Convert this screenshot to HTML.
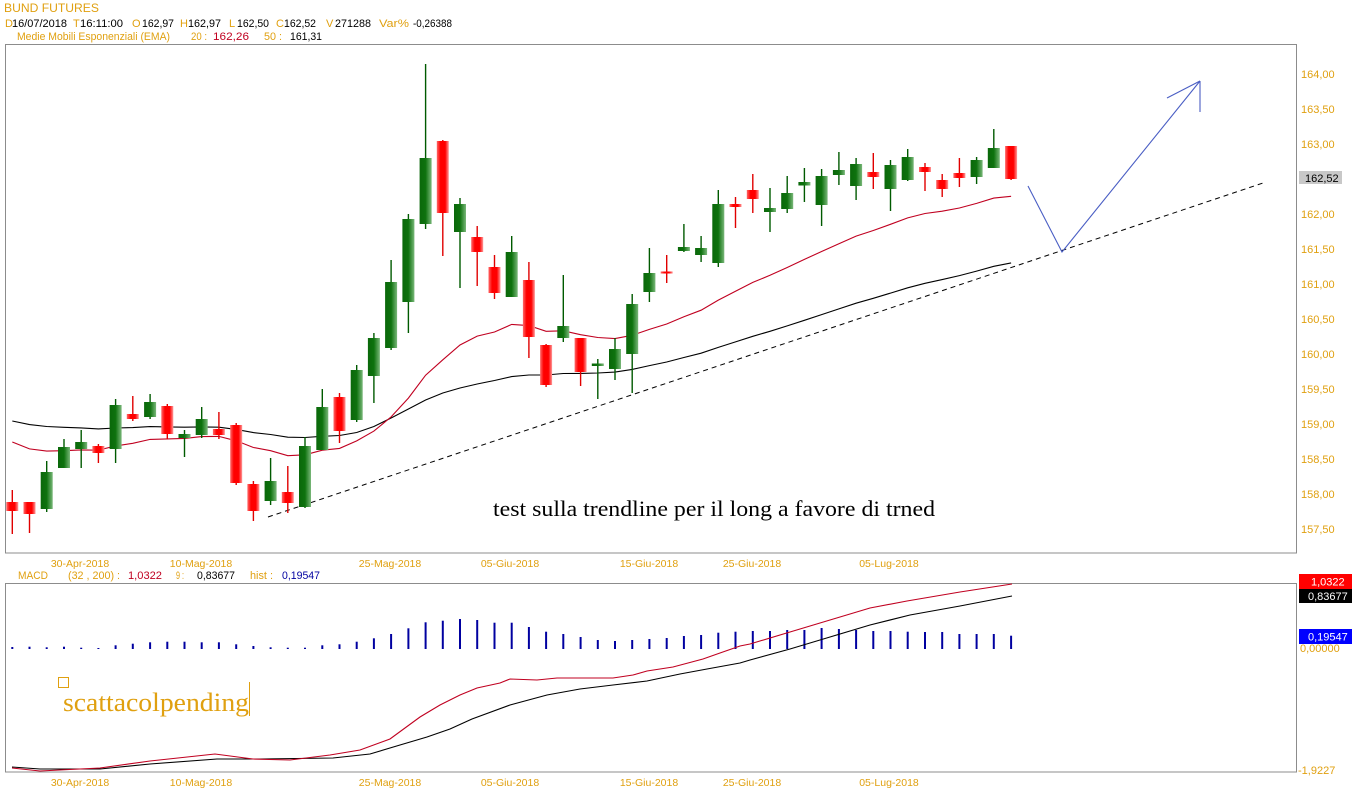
<!DOCTYPE html>
<html><head><meta charset="utf-8">
<style>
html,body{margin:0;padding:0;background:#fff;}
svg{display:block;}
text{font-family:"Liberation Sans",Arial,sans-serif;}
.o{fill:#e0a010;}
.k{fill:#000;}
.r{fill:#c00020;}
.b{fill:#0000a0;}
.ax{font-size:11px;fill:#e0a010;}
.dt{font-size:10.5px;fill:#e0a010;}
</style></head>
<body>
<svg width="1352" height="800" viewBox="0 0 1352 800" xmlns="http://www.w3.org/2000/svg">
<defs>
<linearGradient id="gg" x1="0" x2="1" y1="0" y2="0">
<stop offset="0" stop-color="#0a680a"/><stop offset="0.5" stop-color="#0e720e"/><stop offset="1" stop-color="#7ab87a"/>
</linearGradient>
<linearGradient id="rg" x1="0" x2="1" y1="0" y2="0">
<stop offset="0" stop-color="#ff6a6a"/><stop offset="0.3" stop-color="#ff0000"/><stop offset="0.7" stop-color="#ff0000"/><stop offset="1" stop-color="#ff9a9a"/>
</linearGradient>
</defs>
<rect width="1352" height="800" fill="#fff"/>

<!-- header -->
<text x="4" y="12" font-size="12" class="o" textLength="95" lengthAdjust="spacingAndGlyphs">BUND FUTURES</text>
<g font-size="11">
<text x="5" y="27" class="o">D</text><text x="12" y="27" class="k" textLength="55" lengthAdjust="spacingAndGlyphs">16/07/2018</text>
<text x="73" y="27" class="o">T</text><text x="80" y="27" class="k" textLength="43" lengthAdjust="spacingAndGlyphs">16:11:00</text>
<text x="132" y="27" class="o">O</text><text x="142" y="27" class="k" textLength="32" lengthAdjust="spacingAndGlyphs">162,97</text>
<text x="180" y="27" class="o">H</text><text x="188" y="27" class="k" textLength="33" lengthAdjust="spacingAndGlyphs">162,97</text>
<text x="229" y="27" class="o">L</text><text x="237" y="27" class="k" textLength="32" lengthAdjust="spacingAndGlyphs">162,50</text>
<text x="276" y="27" class="o">C</text><text x="284" y="27" class="k" textLength="32" lengthAdjust="spacingAndGlyphs">162,52</text>
<text x="326" y="27" class="o">V</text><text x="335" y="27" class="k" textLength="36" lengthAdjust="spacingAndGlyphs">271288</text>
<text x="379" y="27" class="o" textLength="30" lengthAdjust="spacingAndGlyphs">Var%</text><text x="413" y="27" class="k" textLength="39" lengthAdjust="spacingAndGlyphs">-0,26388</text>
<text x="17" y="40" class="o" textLength="153" lengthAdjust="spacingAndGlyphs">Medie Mobili Esponenziali (EMA)</text>
<text x="191" y="40" class="o" textLength="16" lengthAdjust="spacingAndGlyphs">20 :</text>
<text x="213" y="40" class="r" textLength="36" lengthAdjust="spacingAndGlyphs">162,26</text>
<text x="264" y="40" class="o" textLength="18" lengthAdjust="spacingAndGlyphs">50 :</text>
<text x="290" y="40" class="k" textLength="32" lengthAdjust="spacingAndGlyphs">161,31</text>
</g>

<!-- main box -->
<rect x="5.5" y="44.5" width="1291" height="508.5" fill="none" stroke="#8c8c8c" stroke-width="1"/>

<!-- price axis -->
<g class="ax">
<text x="1301" y="78">164,00</text>
<text x="1301" y="113">163,50</text>
<text x="1301" y="148">163,00</text>
<text x="1301" y="218">162,00</text>
<text x="1301" y="253">161,50</text>
<text x="1301" y="288">161,00</text>
<text x="1301" y="323">160,50</text>
<text x="1301" y="358">160,00</text>
<text x="1301" y="393">159,50</text>
<text x="1301" y="428">159,00</text>
<text x="1301" y="463">158,50</text>
<text x="1301" y="498">158,00</text>
<text x="1301" y="533">157,50</text>
</g>
<rect x="1299" y="171" width="43" height="13" fill="#c8c8c8"/>
<text x="1305" y="182" font-size="11" fill="#000">162,52</text>

<!-- trendline -->
<line x1="268" y1="517" x2="1266" y2="182" stroke="#000" stroke-width="1" stroke-dasharray="5,4"/>

<!-- EMA lines -->
<polyline fill="none" stroke="#000" stroke-width="1.1" points="12.3,421 29.5,424.6 46.7,426.5 64,427.3 81.2,427.9 98.4,428.9 115.6,428 132.8,427.6 150.1,426.6 167.3,426.9 184.5,427.2 201.7,426.9 218.9,427.2 236.2,429.4 253.4,432.6 270.6,434.5 287.8,437.2 305,437.5 322.3,436.3 339.5,435.5 356.7,432.5 373.9,426.5 391.1,418 408.4,409 425.6,400 442.8,393 460,388 477.2,384 494.5,380.5 511.7,376.6 528.9,375 546.1,375 563.3,373.5 580.6,373.4 597.8,373 615,372.1 632.2,369.4 649.4,365.6 666.7,362 683.9,357.5 701.1,353.2 718.3,347.4 735.5,341.9 752.8,336.3 770,331.3 787.2,325.9 804.4,320.3 821.6,314.6 838.9,308.9 856.1,303.2 873.3,298.3 890.5,293.1 907.7,287.8 925,283.3 942.2,279.6 959.4,275.6 976.6,271.1 993.8,266.3 1011.1,262.9"/>
<polyline fill="none" stroke="#c00020" stroke-width="1.1" points="12.3,442 29.5,448.9 46.7,451.1 64,450.7 81.2,449.9 98.4,450.2 115.6,445.9 132.8,443.3 150.1,439.4 167.3,438.9 184.5,438.4 201.7,436.6 218.9,436.4 236.2,440.8 253.4,447.5 270.6,450.7 287.8,455.7 305,454.8 322.3,450.2 339.5,448.4 356.7,440.9 373.9,431.1 391.1,416.9 408.4,398.1 425.6,375.2 442.8,359.8 460,345 477.2,336.1 494.5,332 511.7,324.4 528.9,325.6 546.1,331.3 563.3,330.8 580.6,334.7 597.8,337.5 615,338.6 632.2,335.3 649.4,329.4 666.7,324 683.9,316.7 701.1,310.2 718.3,300.1 735.5,291.2 752.8,282.4 770,275.3 787.2,267.5 804.4,259.4 821.6,251.5 838.9,243.7 856.1,236.1 873.3,230.5 890.5,224.3 907.7,217.9 925,213.5 942.2,211.2 959.4,208 976.6,203.4 993.8,198.1 1011.1,196.3"/>

<!-- candles: wicks -->
<g stroke-width="1.4">
<line x1="12.3" y1="490" x2="12.3" y2="534" stroke="#e00000"/>
<line x1="29.5" y1="502" x2="29.5" y2="533" stroke="#e00000"/>
<line x1="46.7" y1="461" x2="46.7" y2="512" stroke="#005a00"/>
<line x1="64" y1="439" x2="64" y2="468" stroke="#005a00"/>
<line x1="81.2" y1="430" x2="81.2" y2="468" stroke="#005a00"/>
<line x1="98.4" y1="444" x2="98.4" y2="463" stroke="#e00000"/>
<line x1="115.6" y1="399" x2="115.6" y2="463" stroke="#005a00"/>
<line x1="132.8" y1="396" x2="132.8" y2="421" stroke="#e00000"/>
<line x1="150.1" y1="394" x2="150.1" y2="419" stroke="#005a00"/>
<line x1="167.3" y1="404" x2="167.3" y2="439" stroke="#e00000"/>
<line x1="184.5" y1="430" x2="184.5" y2="457" stroke="#005a00"/>
<line x1="201.7" y1="407" x2="201.7" y2="438" stroke="#005a00"/>
<line x1="218.9" y1="412" x2="218.9" y2="439" stroke="#e00000"/>
<line x1="236.2" y1="423" x2="236.2" y2="485" stroke="#e00000"/>
<line x1="253.4" y1="481" x2="253.4" y2="521" stroke="#e00000"/>
<line x1="270.6" y1="458" x2="270.6" y2="505" stroke="#005a00"/>
<line x1="287.8" y1="466" x2="287.8" y2="513" stroke="#e00000"/>
<line x1="305" y1="437" x2="305" y2="508" stroke="#005a00"/>
<line x1="322.3" y1="389" x2="322.3" y2="450" stroke="#005a00"/>
<line x1="339.5" y1="393" x2="339.5" y2="443" stroke="#e00000"/>
<line x1="356.7" y1="365" x2="356.7" y2="422" stroke="#005a00"/>
<line x1="373.9" y1="333" x2="373.9" y2="403" stroke="#005a00"/>
<line x1="391.1" y1="260" x2="391.1" y2="350" stroke="#005a00"/>
<line x1="408.4" y1="214" x2="408.4" y2="333" stroke="#005a00"/>
<line x1="425.6" y1="64" x2="425.6" y2="229" stroke="#005a00"/>
<line x1="442.8" y1="140" x2="442.8" y2="256" stroke="#e00000"/>
<line x1="460" y1="198" x2="460" y2="288" stroke="#005a00"/>
<line x1="477.2" y1="226" x2="477.2" y2="286" stroke="#e00000"/>
<line x1="494.5" y1="255" x2="494.5" y2="299" stroke="#e00000"/>
<line x1="511.7" y1="236" x2="511.7" y2="297" stroke="#005a00"/>
<line x1="528.9" y1="262" x2="528.9" y2="358" stroke="#e00000"/>
<line x1="546.1" y1="344" x2="546.1" y2="387" stroke="#e00000"/>
<line x1="563.3" y1="275" x2="563.3" y2="342" stroke="#005a00"/>
<line x1="580.6" y1="338" x2="580.6" y2="386" stroke="#e00000"/>
<line x1="597.8" y1="359" x2="597.8" y2="399" stroke="#005a00"/>
<line x1="615" y1="338" x2="615" y2="380" stroke="#005a00"/>
<line x1="632.2" y1="294" x2="632.2" y2="393" stroke="#005a00"/>
<line x1="649.4" y1="248" x2="649.4" y2="302" stroke="#005a00"/>
<line x1="666.7" y1="255" x2="666.7" y2="283" stroke="#e00000"/>
<line x1="683.9" y1="224" x2="683.9" y2="252" stroke="#005a00"/>
<line x1="701.1" y1="236" x2="701.1" y2="262" stroke="#005a00"/>
<line x1="718.3" y1="190" x2="718.3" y2="267" stroke="#005a00"/>
<line x1="735.5" y1="197" x2="735.5" y2="228" stroke="#e00000"/>
<line x1="752.8" y1="174" x2="752.8" y2="213" stroke="#e00000"/>
<line x1="770" y1="188" x2="770" y2="232" stroke="#005a00"/>
<line x1="787.2" y1="176" x2="787.2" y2="213" stroke="#005a00"/>
<line x1="804.4" y1="168" x2="804.4" y2="202" stroke="#005a00"/>
<line x1="821.6" y1="169" x2="821.6" y2="226" stroke="#005a00"/>
<line x1="838.9" y1="152" x2="838.9" y2="185" stroke="#005a00"/>
<line x1="856.1" y1="158" x2="856.1" y2="200" stroke="#005a00"/>
<line x1="873.3" y1="153" x2="873.3" y2="189" stroke="#e00000"/>
<line x1="890.5" y1="160" x2="890.5" y2="211" stroke="#005a00"/>
<line x1="907.7" y1="149" x2="907.7" y2="181" stroke="#005a00"/>
<line x1="925" y1="163" x2="925" y2="191" stroke="#e00000"/>
<line x1="942.2" y1="174" x2="942.2" y2="197" stroke="#e00000"/>
<line x1="959.4" y1="158" x2="959.4" y2="187" stroke="#e00000"/>
<line x1="976.6" y1="157" x2="976.6" y2="184" stroke="#005a00"/>
<line x1="993.8" y1="129" x2="993.8" y2="168" stroke="#005a00"/>
<line x1="1011.1" y1="146" x2="1011.1" y2="180" stroke="#e00000"/>
</g>
<!-- candles: bodies -->
<g>
<rect x="6.3" y="502" width="12" height="9" fill="url(#rg)"/>
<rect x="23.5" y="502" width="12" height="12" fill="url(#rg)"/>
<rect x="40.7" y="472" width="12" height="37" fill="url(#gg)"/>
<rect x="58" y="447" width="12" height="21" fill="url(#gg)"/>
<rect x="75.2" y="442" width="12" height="7" fill="url(#gg)"/>
<rect x="92.4" y="446" width="12" height="7" fill="url(#rg)"/>
<rect x="109.6" y="405" width="12" height="44" fill="url(#gg)"/>
<rect x="126.8" y="414" width="12" height="5" fill="url(#rg)"/>
<rect x="144.1" y="402" width="12" height="15" fill="url(#gg)"/>
<rect x="161.3" y="406" width="12" height="28" fill="url(#rg)"/>
<rect x="178.5" y="434" width="12" height="4" fill="url(#gg)"/>
<rect x="195.7" y="419" width="12" height="16" fill="url(#gg)"/>
<rect x="212.9" y="429" width="12" height="6" fill="url(#rg)"/>
<rect x="230.2" y="425" width="12" height="58" fill="url(#rg)"/>
<rect x="247.4" y="484" width="12" height="27" fill="url(#rg)"/>
<rect x="264.6" y="481" width="12" height="20" fill="url(#gg)"/>
<rect x="281.8" y="492" width="12" height="11" fill="url(#rg)"/>
<rect x="299" y="446" width="12" height="61" fill="url(#gg)"/>
<rect x="316.3" y="407" width="12" height="43" fill="url(#gg)"/>
<rect x="333.5" y="397" width="12" height="34" fill="url(#rg)"/>
<rect x="350.7" y="370" width="12" height="50" fill="url(#gg)"/>
<rect x="367.9" y="338" width="12" height="38" fill="url(#gg)"/>
<rect x="385.1" y="282" width="12" height="66" fill="url(#gg)"/>
<rect x="402.4" y="219" width="12" height="83" fill="url(#gg)"/>
<rect x="419.6" y="158" width="12" height="66" fill="url(#gg)"/>
<rect x="436.8" y="141" width="12" height="72" fill="url(#rg)"/>
<rect x="454" y="204" width="12" height="28" fill="url(#gg)"/>
<rect x="471.2" y="237" width="12" height="15" fill="url(#rg)"/>
<rect x="488.5" y="267" width="12" height="26" fill="url(#rg)"/>
<rect x="505.7" y="252" width="12" height="45" fill="url(#gg)"/>
<rect x="522.9" y="280" width="12" height="57" fill="url(#rg)"/>
<rect x="540.1" y="345" width="12" height="40" fill="url(#rg)"/>
<rect x="557.3" y="326" width="12" height="12" fill="url(#gg)"/>
<rect x="574.6" y="338" width="12" height="34" fill="url(#rg)"/>
<rect x="591.8" y="363.5" width="12" height="2.5" fill="url(#gg)"/>
<rect x="609" y="349" width="12" height="20" fill="url(#gg)"/>
<rect x="626.2" y="304" width="12" height="50" fill="url(#gg)"/>
<rect x="643.4" y="273" width="12" height="19" fill="url(#gg)"/>
<rect x="660.7" y="271.5" width="12" height="2" fill="url(#rg)"/>
<rect x="677.9" y="247" width="12" height="4" fill="url(#gg)"/>
<rect x="695.1" y="248" width="12" height="7" fill="url(#gg)"/>
<rect x="712.3" y="204" width="12" height="59" fill="url(#gg)"/>
<rect x="729.5" y="204" width="12" height="3" fill="url(#rg)"/>
<rect x="746.8" y="190" width="12" height="9" fill="url(#rg)"/>
<rect x="764" y="208" width="12" height="4" fill="url(#gg)"/>
<rect x="781.2" y="193" width="12" height="16" fill="url(#gg)"/>
<rect x="798.4" y="182" width="12" height="3.5" fill="url(#gg)"/>
<rect x="815.6" y="176" width="12" height="29" fill="url(#gg)"/>
<rect x="832.9" y="170" width="12" height="5" fill="url(#gg)"/>
<rect x="850.1" y="164" width="12" height="22" fill="url(#gg)"/>
<rect x="867.3" y="172" width="12" height="5" fill="url(#rg)"/>
<rect x="884.5" y="165" width="12" height="24" fill="url(#gg)"/>
<rect x="901.7" y="157" width="12" height="23" fill="url(#gg)"/>
<rect x="919" y="167" width="12" height="5" fill="url(#rg)"/>
<rect x="936.2" y="180" width="12" height="9" fill="url(#rg)"/>
<rect x="953.4" y="173" width="12" height="5" fill="url(#rg)"/>
<rect x="970.6" y="160" width="12" height="17" fill="url(#gg)"/>
<rect x="987.8" y="148" width="12" height="20" fill="url(#gg)"/>
<rect x="1005.1" y="146" width="12" height="33" fill="url(#rg)"/>
</g>

<!-- blue arrow -->
<g stroke="#4a5ec4" stroke-width="1.1" fill="none">
<polyline points="1028,186 1062,252 1200,81"/>
<line x1="1167" y1="98" x2="1200" y2="81"/>
<line x1="1200" y1="81" x2="1200" y2="112"/>
</g>

<!-- annotation text -->
<text x="493" y="516" font-family="Liberation Serif,serif" font-size="22" fill="#000" textLength="442" lengthAdjust="spacingAndGlyphs" style="font-family:'Liberation Serif',serif">test sulla trendline per il long a favore di trned</text>

<!-- date labels top row -->
<g class="dt" text-anchor="middle">
<text x="80" y="567">30-Apr-2018</text>
<text x="201" y="567">10-Mag-2018</text>
<text x="390" y="567">25-Mag-2018</text>
<text x="510" y="567">05-Giu-2018</text>
<text x="649" y="567">15-Giu-2018</text>
<text x="752" y="567">25-Giu-2018</text>
<text x="889" y="567">05-Lug-2018</text>
</g>

<!-- MACD label row -->
<g font-size="11">
<text x="18" y="579" class="o" textLength="30" lengthAdjust="spacingAndGlyphs">MACD</text>
<text x="68" y="579" class="o" textLength="52" lengthAdjust="spacingAndGlyphs">(32 , 200) :</text>
<text x="128" y="579" class="r" textLength="34" lengthAdjust="spacingAndGlyphs">1,0322</text>
<text x="176" y="579" class="o" textLength="8" lengthAdjust="spacingAndGlyphs">9 :</text>
<text x="197" y="579" class="k" textLength="38" lengthAdjust="spacingAndGlyphs">0,83677</text>
<text x="250" y="579" class="o" textLength="23" lengthAdjust="spacingAndGlyphs">hist :</text>
<text x="282" y="579" class="b" textLength="38" lengthAdjust="spacingAndGlyphs">0,19547</text>
</g>

<!-- MACD box -->
<rect x="5.5" y="583.5" width="1291" height="188.5" fill="none" stroke="#8c8c8c" stroke-width="1"/>

<!-- histogram -->
<g stroke="#0000a0" stroke-width="2">
<line x1="12.3" y1="649" x2="12.3" y2="647"/>
<line x1="29.5" y1="649" x2="29.5" y2="646.7"/>
<line x1="46.7" y1="649" x2="46.7" y2="647.3"/>
<line x1="64" y1="649" x2="64" y2="646.7"/>
<line x1="81.2" y1="649" x2="81.2" y2="647.7"/>
<line x1="98.4" y1="649" x2="98.4" y2="648"/>
<line x1="115.6" y1="649" x2="115.6" y2="645.3"/>
<line x1="132.8" y1="649" x2="132.8" y2="643.7"/>
<line x1="150.1" y1="649" x2="150.1" y2="642.3"/>
<line x1="167.3" y1="649" x2="167.3" y2="641.7"/>
<line x1="184.5" y1="649" x2="184.5" y2="641.7"/>
<line x1="201.7" y1="649" x2="201.7" y2="642.3"/>
<line x1="218.9" y1="649" x2="218.9" y2="642.3"/>
<line x1="236.2" y1="649" x2="236.2" y2="644.3"/>
<line x1="253.4" y1="649" x2="253.4" y2="646"/>
<line x1="270.6" y1="649" x2="270.6" y2="647.3"/>
<line x1="287.8" y1="649" x2="287.8" y2="647.7"/>
<line x1="305" y1="649" x2="305" y2="647.7"/>
<line x1="322.3" y1="649" x2="322.3" y2="645.3"/>
<line x1="339.5" y1="649" x2="339.5" y2="644.3"/>
<line x1="356.7" y1="649" x2="356.7" y2="641.7"/>
<line x1="373.9" y1="649" x2="373.9" y2="638.3"/>
<line x1="391.1" y1="649" x2="391.1" y2="634"/>
<line x1="408.4" y1="649" x2="408.4" y2="628.3"/>
<line x1="425.6" y1="649" x2="425.6" y2="622.3"/>
<line x1="442.8" y1="649" x2="442.8" y2="620.7"/>
<line x1="460" y1="649" x2="460" y2="619"/>
<line x1="477.2" y1="649" x2="477.2" y2="620"/>
<line x1="494.5" y1="649" x2="494.5" y2="622.7"/>
<line x1="511.7" y1="649" x2="511.7" y2="622.7"/>
<line x1="528.9" y1="649" x2="528.9" y2="627"/>
<line x1="546.1" y1="649" x2="546.1" y2="631.7"/>
<line x1="563.3" y1="649" x2="563.3" y2="634"/>
<line x1="580.6" y1="649" x2="580.6" y2="637"/>
<line x1="597.8" y1="649" x2="597.8" y2="640"/>
<line x1="615" y1="649" x2="615" y2="641"/>
<line x1="632.2" y1="649" x2="632.2" y2="640"/>
<line x1="649.4" y1="649" x2="649.4" y2="639"/>
<line x1="666.7" y1="649" x2="666.7" y2="638"/>
<line x1="683.9" y1="649" x2="683.9" y2="636"/>
<line x1="701.1" y1="649" x2="701.1" y2="635"/>
<line x1="718.3" y1="649" x2="718.3" y2="632.7"/>
<line x1="735.5" y1="649" x2="735.5" y2="631.7"/>
<line x1="752.8" y1="649" x2="752.8" y2="631"/>
<line x1="770" y1="649" x2="770" y2="631"/>
<line x1="787.2" y1="649" x2="787.2" y2="630"/>
<line x1="804.4" y1="649" x2="804.4" y2="630"/>
<line x1="821.6" y1="649" x2="821.6" y2="628"/>
<line x1="838.9" y1="649" x2="838.9" y2="629"/>
<line x1="856.1" y1="649" x2="856.1" y2="630"/>
<line x1="873.3" y1="649" x2="873.3" y2="631"/>
<line x1="890.5" y1="649" x2="890.5" y2="631"/>
<line x1="907.7" y1="649" x2="907.7" y2="631.7"/>
<line x1="925" y1="649" x2="925" y2="632"/>
<line x1="942.2" y1="649" x2="942.2" y2="632"/>
<line x1="959.4" y1="649" x2="959.4" y2="634"/>
<line x1="976.6" y1="649" x2="976.6" y2="634"/>
<line x1="993.8" y1="649" x2="993.8" y2="634"/>
<line x1="1011.1" y1="649" x2="1011.1" y2="635.7"/>
</g>

<!-- MACD lines -->
<polyline fill="none" stroke="#000" stroke-width="1.1" points="12,767 40,769 100,769 150,764 217,759 260,759 333,758 370,754 400,745 427,737 450,729 472,719 510,705 547,695 580,689 613,685 647,681 680,674 707,669 740,663 750,660 790,649 830,637 870,625 910,615 960,606 1012,596"/>
<polyline fill="none" stroke="#c00020" stroke-width="1.1" points="12,768 40,771 100,768 150,761 215,754 253,759 290,760 330,755 360,750 390,739 420,717 440,705 460,695 477,688 500,683 510,679 537,680 557,678 613,678 633,675 647,671 673,667 703,659 720,653 740,646 750,644 790,632 830,620 870,608 907,601 960,592 1012,584"/>

<!-- scattacolpending -->
<rect x="58.5" y="677.5" width="10" height="10" fill="none" stroke="#e0a010" stroke-width="1"/>
<text x="63" y="711" font-size="26" fill="#e0a010" textLength="186" lengthAdjust="spacingAndGlyphs" style="font-family:'Liberation Serif',serif">scattacolpending</text>
<line x1="249.5" y1="682" x2="249.5" y2="716" stroke="#e0a010" stroke-width="1"/>

<!-- MACD right axis -->
<rect x="1299" y="574" width="53" height="15" fill="#ff0000"/>
<text x="1311" y="585.5" font-size="11" fill="#fff">1,0322</text>
<rect x="1299" y="589" width="53" height="14" fill="#000"/>
<text x="1308" y="600" font-size="11" fill="#fff">0,83677</text>
<rect x="1299" y="629" width="53" height="15" fill="#0000ff"/>
<text x="1308" y="640.5" font-size="11" fill="#fff">0,19547</text>
<text x="1300" y="652" class="ax">0,00000</text>
<text x="1298" y="774" class="ax">-1,9227</text>

<!-- date labels bottom row -->
<g class="dt" text-anchor="middle">
<text x="80" y="786">30-Apr-2018</text>
<text x="201" y="786">10-Mag-2018</text>
<text x="390" y="786">25-Mag-2018</text>
<text x="510" y="786">05-Giu-2018</text>
<text x="649" y="786">15-Giu-2018</text>
<text x="752" y="786">25-Giu-2018</text>
<text x="889" y="786">05-Lug-2018</text>
</g>
</svg>
</body></html>
